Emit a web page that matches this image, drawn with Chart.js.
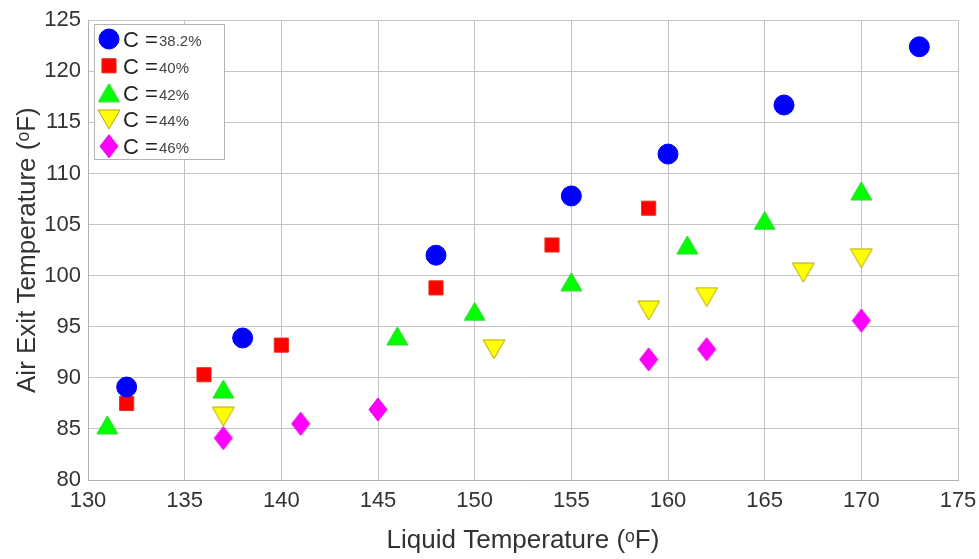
<!DOCTYPE html>
<html>
<head>
<meta charset="utf-8">
<script src="https://cdn.jsdelivr.net/npm/chart.js@4/dist/chart.umd.min.js"></script>
<style>
  html, body { margin: 0; padding: 0; background: #fff; }
  #wrap { width: 979px; height: 559px; position: relative; }
</style>
</head>
<body>
<div id="wrap"><canvas id="c" width="979" height="559"></canvas></div>
<script>
// ---- Data ----
const seriesLabels = ['38.2%', '40%', '42%', '44%', '46%'];

const c382X = [132, 138, 148, 155, 160, 166, 173];
const c382Y = [89.1, 93.9, 102.0, 107.8, 111.9, 116.7, 122.4];

const c40X = [132, 136, 140, 148, 154, 159];
const c40Y = [87.5, 90.3, 93.2, 98.8, 103.0, 106.6];

const c42X = [131, 137, 146, 150, 155, 161, 165, 170];
const c42Y = [85.4, 88.9, 94.1, 96.5, 99.4, 103.0, 105.4, 108.3];

const c44X = [137, 151, 159, 162, 167, 170];
const c44Y = [86.2, 92.8, 96.6, 97.9, 100.3, 101.7];

const c46X = [137, 141, 145, 159, 162, 170];
const c46Y = [84.1, 85.5, 86.9, 91.8, 92.8, 95.6];

const xTicks = [130, 135, 140, 145, 150, 155, 160, 165, 170, 175];
const yTicks = [80, 85, 90, 95, 100, 105, 110, 115, 120, 125];

const xTitle = 'Liquid Temperature (\u1D52F)';
const yTitle = 'Air Exit Temperature (\u1D52F)';

function pts(xs, ys) { return xs.map((x, i) => ({ x: x, y: ys[i] })); }

// marker images (bounding-box centred like MATLAB markers)
function markerCanvas(kind, w, h, fill, stroke) {
  const c = document.createElement('canvas');
  c.width = w + 2; c.height = h + 2;
  const g = c.getContext('2d');
  g.beginPath();
  if (kind === 'up') {
    g.moveTo(1 + w / 2, 1); g.lineTo(1 + w, 1 + h); g.lineTo(1, 1 + h);
  } else if (kind === 'down') {
    g.moveTo(1, 1); g.lineTo(1 + w, 1); g.lineTo(1 + w / 2, 1 + h);
  } else {
    g.moveTo(1 + w / 2, 1); g.lineTo(1 + w, 1 + h / 2); g.lineTo(1 + w / 2, 1 + h); g.lineTo(1, 1 + h / 2);
  }
  g.closePath();
  g.fillStyle = fill; g.fill();
  g.strokeStyle = stroke; g.lineWidth = 1; g.stroke();
  return c;
}

const upTri = markerCanvas('up', 21, 18, '#00ff00', '#2fd02f');
const downTri = markerCanvas('down', 22, 19, '#ffff00', '#b8a400');
const diamond = markerCanvas('diamond', 18, 23, '#ff00ff', '#e000e0');

const styles = [
  { bg: '#0000ff', bd: '#0000ff', ps: 'circle', r: 10 },
  { bg: '#ff0000', bd: '#e8301a', ps: 'rect', r: 10 },
  { bg: '#00ff00', bd: '#2fd02f', ps: upTri, r: 11 },
  { bg: '#ffff00', bd: '#b8a400', ps: downTri, r: 11 },
  { bg: '#ff00ff', bd: '#e000e0', ps: diamond, r: 11 }
];
const seriesData = [pts(c382X, c382Y), pts(c40X, c40Y), pts(c42X, c42Y), pts(c44X, c44Y), pts(c46X, c46Y)];

const datasets = seriesData.map((d, i) => ({
  label: 'C = ' + seriesLabels[i],
  data: d,
  showLine: false,
  pointStyle: styles[i].ps,
  pointRadius: styles[i].r,
  pointHoverRadius: styles[i].r,
  backgroundColor: styles[i].bg,
  borderColor: styles[i].bd,
  pointBorderWidth: 1
}));

const FONT = "'Liberation Sans', Arial, Helvetica, sans-serif";
const TXT = '#333333';
const GRID = '#c4c4c4';

const legendPlugin = {
  id: 'insideLegend',
  afterDatasetsDraw(chart) {
    const ctx = chart.ctx;
    ctx.save();
    ctx.fillStyle = '#ffffff';
    ctx.fillRect(94, 24, 130, 135);
    ctx.strokeStyle = '#b4b4b4';
    ctx.lineWidth = 1;
    ctx.strokeRect(94.5, 24.5, 130, 135);
    const rowY0 = 39, rowStep = 26.8, mx = 109;
    chart.data.datasets.forEach((ds, i) => {
      const y = rowY0 + i * rowStep;
      ctx.fillStyle = ds.backgroundColor;
      ctx.strokeStyle = ds.borderColor;
      ctx.lineWidth = 1;
      Chart.helpers.drawPoint(ctx, {
        pointStyle: ds.pointStyle,
        rotation: 0,
        radius: ds.pointRadius,
        borderWidth: 1
      }, mx, y);
      ctx.fillStyle = '#222222';
      ctx.textBaseline = 'alphabetic';
      ctx.textAlign = 'left';
      ctx.font = '22px ' + FONT;
      ctx.fillText('C =', 123, y + 8);
      ctx.fillStyle = '#444444';
      ctx.font = '15px ' + FONT;
      ctx.fillText(seriesLabels[i], 159, y + 7);
    });
    ctx.restore();
  }
};

new Chart(document.getElementById('c'), {
  type: 'scatter',
  data: { datasets: datasets },
  plugins: [legendPlugin],
  options: {
    responsive: false,
    animation: false,
    events: [],
    layout: { padding: { left: 0, top: 17, right: 21, bottom: 0 } },
    plugins: {
      legend: { display: false },
      tooltip: { enabled: false },
      title: { display: false }
    },
    scales: {
      x: {
        type: 'linear',
        min: 130, max: 175,
        afterBuildTicks(scale) { scale.ticks = xTicks.map(v => ({ value: v })); },
        afterFit(scale) { scale.height = 79; scale.paddingRight = 0; scale.paddingLeft = 0; },
        grid: { color: GRID, lineWidth: 1, drawTicks: false },
        border: { display: true, color: '#b0b0b0' },
        ticks: { color: TXT, font: { family: FONT, size: 22 }, padding: 8, maxRotation: 0, autoSkip: false },
        title: { display: true, text: xTitle, color: TXT, font: { family: FONT, size: 26 }, padding: { top: 0, bottom: 3 } }
      },
      y: {
        type: 'linear',
        min: 80, max: 125,
        afterBuildTicks(scale) { scale.ticks = yTicks.map(v => ({ value: v })); },
        afterFit(scale) { scale.width = 88; },
        grid: { color: GRID, lineWidth: 1, drawTicks: false },
        border: { display: true, color: '#b0b0b0' },
        ticks: { color: TXT, font: { family: FONT, size: 22 }, padding: 7, autoSkip: false },
        title: { display: true, text: yTitle, color: TXT, font: { family: FONT, size: 26 }, padding: { top: 12, bottom: 0 } }
      }
    }
  }
});
</script>
</body>
</html>
